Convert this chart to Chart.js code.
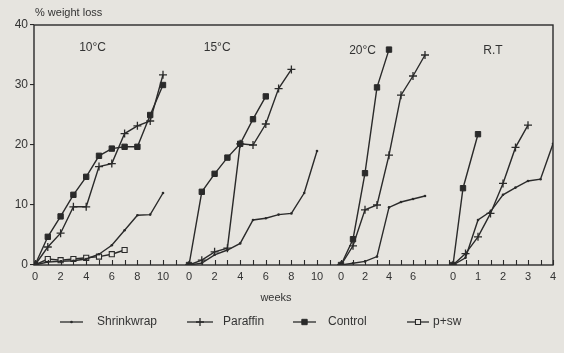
<!DOCTYPE html>
<html>
<head>
<meta charset="utf-8">
<script src="https://cdn.jsdelivr.net/npm/chart.js@4.4.1/dist/chart.umd.min.js"></script>
<style>
  html, body { margin:0; padding:0; background:#e6e4df; }
  #wrap { width:564px; height:353px; }
</style>
</head>
<body>
<div id="wrap"><canvas id="c"></canvas></div>
<script>
/* % weight loss vs weeks — four storage temperatures side by side */

Chart.defaults.font.family = "'Liberation Sans', Arial, sans-serif";
Chart.defaults.font.size = 11;
Chart.defaults.color = '#333';

const INK = '#2a2a2a', PAPER = '#e6e4df';

// ── data (weeks, % weight loss) ──
const panelNames = ['10°C', '15°C', '20°C', 'R.T'];

// 10°C
const wk10       = [0, 1, 2, 3, 4, 5, 6, 7, 8, 9, 10];
const shrink10   = [0, 0.5, 0.6, 0.7, 1.0, 1.8, 3.3, 5.8, 8.3, 8.4, 12.0];
const paraffin10 = [0, 3.0, 5.3, 9.7, 9.7, 16.4, 16.9, 21.9, 23.2, 24.0, 31.7];
const control10  = [0, 4.7, 8.1, 11.7, 14.7, 18.2, 19.4, 19.7, 19.7, 25.0, 30.0];
const wkPsw10    = [0, 1, 2, 3, 4, 5, 6, 7];
const psw10      = [0, 1.0, 0.8, 1.0, 1.2, 1.4, 1.8, 2.5];

// 15°C
const wk15       = [0, 1, 2, 3, 4, 5, 6, 7, 8, 9, 10];
const shrink15   = [0, 0.3, 1.7, 2.5, 3.6, 7.5, 7.8, 8.4, 8.6, 12.0, 19.0];
const paraffin15 = [0, 0.8, 2.2, 2.8, 20.2, 20.0, 23.5, 29.4, 32.6];
const control15  = [0, 12.2, 15.2, 17.9, 20.2, 24.3, 28.1];

// 20°C
const wk20       = [0, 1, 2, 3, 4, 5, 6, 7];
const shrink20   = [0, 0.3, 0.6, 1.4, 9.6, 10.5, 11.0, 11.5];
const paraffin20 = [0, 3.2, 9.2, 10.0, 18.3, 28.3, 31.5, 35.0];
const control20  = [0, 4.3, 15.3, 29.6, 35.9];

// room temperature
const wkRT       = [0, 0.5, 1, 1.5, 2, 2.5, 3, 3.5, 4];
const shrinkRT   = [0, 1.2, 7.5, 8.9, 11.7, 12.9, 14.0, 14.3, 20.2];
const paraffinRT = [0, 1.9, 4.7, 8.6, 13.6, 19.6, 23.3];
const wkCtrlRT   = [0, 0.4, 1];
const controlRT  = [0, 12.8, 21.8];

const yTicks = [0, 10, 20, 30, 40];

// ── panel layout on one shared x scale (px from the left axis) ──
const panelStart = [1, 155, 307, 419];
const pxPerWeek  = [12.8, 12.8, 12, 25];
const tickMax    = [11, 11, 9, 4];
const tickStep   = [1, 1, 1, 0.5];
const tickLabels = [[0,2,4,6,8,10], [0,2,4,6,8,10], [0,2,4,6], [0,1,2,3,4]];
const gx = (p, w) => panelStart[p] + w * pxPerWeek[p];

const tickDefs = [];
panelStart.forEach((s, p) => {
    for (let w = 0; w <= tickMax[p] + 1e-9; w += tickStep[p]) {
        tickDefs.push({ value: gx(p, w), label: tickLabels[p].includes(w) ? String(w) : '' });
    }
});

const STYLE = {
    'Shrinkwrap': { pointStyle:'circle', pointRadius:1.3, pointBackgroundColor:INK, pointBorderWidth:0 },
    'Paraffin':   { pointStyle:'cross',  pointRadius:4,   pointBackgroundColor:INK, pointBorderWidth:1.3 },
    'Control':    { pointStyle:'rect',   pointRadius:3.8, pointBackgroundColor:INK, pointBorderWidth:1 },
    'p+sw':       { pointStyle:'rect',   pointRadius:3.6, pointBackgroundColor:PAPER, pointBorderWidth:1.1 }
};
const legendOrder = ['Shrinkwrap', 'Paraffin', 'Control', 'p+sw'];

const series = [
    ['Shrinkwrap', 0, wk10, shrink10], ['Paraffin', 0, wk10, paraffin10],
    ['Control', 0, wk10, control10],   ['p+sw', 0, wkPsw10, psw10],
    ['Shrinkwrap', 1, wk15, shrink15], ['Paraffin', 1, wk15, paraffin15],
    ['Control', 1, wk15, control15],
    ['Shrinkwrap', 2, wk20, shrink20], ['Paraffin', 2, wk20, paraffin20],
    ['Control', 2, wk20, control20],
    ['Shrinkwrap', 3, wkRT, shrinkRT], ['Paraffin', 3, wkRT, paraffinRT],
    ['Control', 3, wkCtrlRT, controlRT]
];

const datasets = series.map(([name, p, wk, vals]) => ({
    label: name,
    data: vals.map((v, i) => ({ x: gx(p, wk[i]), y: v })),
    borderColor: INK, borderWidth: 1.4, tension: 0, fill: false,
    pointBorderColor: INK, pointHoverRadius: 0,
    ...STYLE[name]
}));

// ── frame, inward ticks, labels and legend ──
const decor = {
    id: 'decor',
    afterDraw(chart) {
        const { ctx, chartArea: a, scales: { x, y } } = chart;
        ctx.save();
        ctx.strokeStyle = INK;
        ctx.lineWidth = 1.4;
        ctx.strokeRect(a.left, a.top, a.right - a.left, a.bottom - a.top);

        ctx.lineWidth = 1.1;
        ctx.beginPath();
        tickDefs.forEach(t => {
            const px = Math.round(x.getPixelForValue(t.value)) + 0.5;
            ctx.moveTo(px, a.bottom);
            ctx.lineTo(px, a.bottom - 5);
        });
        ctx.stroke();

        ctx.fillStyle = '#333';
        ctx.textBaseline = 'middle';
        ctx.font = "12px 'Liberation Sans', Arial, sans-serif";
        const labelPos = [[4.5, 36.2], [2.2, 36.2], [1.8, 35.8], [1.6, 35.8]];
        ctx.textAlign = 'center';
        panelNames.forEach((n, p) => {
            ctx.fillText(n, x.getPixelForValue(gx(p, labelPos[p][0])), y.getPixelForValue(labelPos[p][1]));
        });

        ctx.font = "11px 'Liberation Sans', Arial, sans-serif";
        ctx.textAlign = 'left';
        ctx.fillText('% weight loss', 35, 13);
        ctx.textAlign = 'center';
        ctx.fillText('weeks', 276, 298);

        // legend
        const lineX = [[60, 83], [187, 213], [293, 316], [407, 429]];
        const textX = [97, 223, 328, 433];
        const ly = 322;
        ctx.font = "12px 'Liberation Sans', Arial, sans-serif";
        ctx.textAlign = 'left';
        legendOrder.forEach((n, i) => {
            const st = STYLE[n];
            ctx.strokeStyle = INK;
            ctx.lineWidth = 1.3;
            ctx.beginPath();
            ctx.moveTo(lineX[i][0], ly);
            ctx.lineTo(lineX[i][1], ly);
            ctx.stroke();
            ctx.fillStyle = st.pointBackgroundColor;
            ctx.lineWidth = st.pointBorderWidth || 1;
            Chart.helpers.drawPoint(ctx, { pointStyle: st.pointStyle, radius: st.pointRadius, rotation: 0, borderWidth: st.pointBorderWidth },
                (lineX[i][0] + lineX[i][1]) / 2, ly);
            ctx.fillStyle = '#333';
            ctx.fillText(n, textX[i], ly);
        });
        ctx.restore();
    }
};

new Chart(document.getElementById('c'), {
    type: 'line',
    data: { datasets },
    options: {
        responsive: true, maintainAspectRatio: false, animation: false,
        layout: { padding: { top: 25, right: 11, left: 0, bottom: 0 } },
        plugins: { legend: { display: false }, tooltip: { enabled: false } },
        scales: {
            x: {
                type: 'linear', min: 0, max: 519,
                afterBuildTicks: s => { s.ticks = tickDefs.map(t => ({ value: t.value })); },
                afterFit: s => { s.height = 88; },
                grid: { display: false, drawTicks: false, tickLength: 0 }, border: { display: false },
                ticks: { autoSkip: false, maxRotation: 0, padding: 5,
                         callback: (v, i) => tickDefs[i] ? tickDefs[i].label : '' }
            },
            y: {
                min: 0, max: 40,
                afterBuildTicks: s => { s.ticks = yTicks.map(v => ({ value: v })); },
                afterFit: s => { s.width = 34; },
                grid: { drawOnChartArea: false, tickLength: 4, color: INK, lineWidth: 1.1 },
                border: { display: false },
                ticks: { padding: 2, font: { size: 12 } }
            }
        }
    },
    plugins: [decor]
});
</script>
</body>
</html>
